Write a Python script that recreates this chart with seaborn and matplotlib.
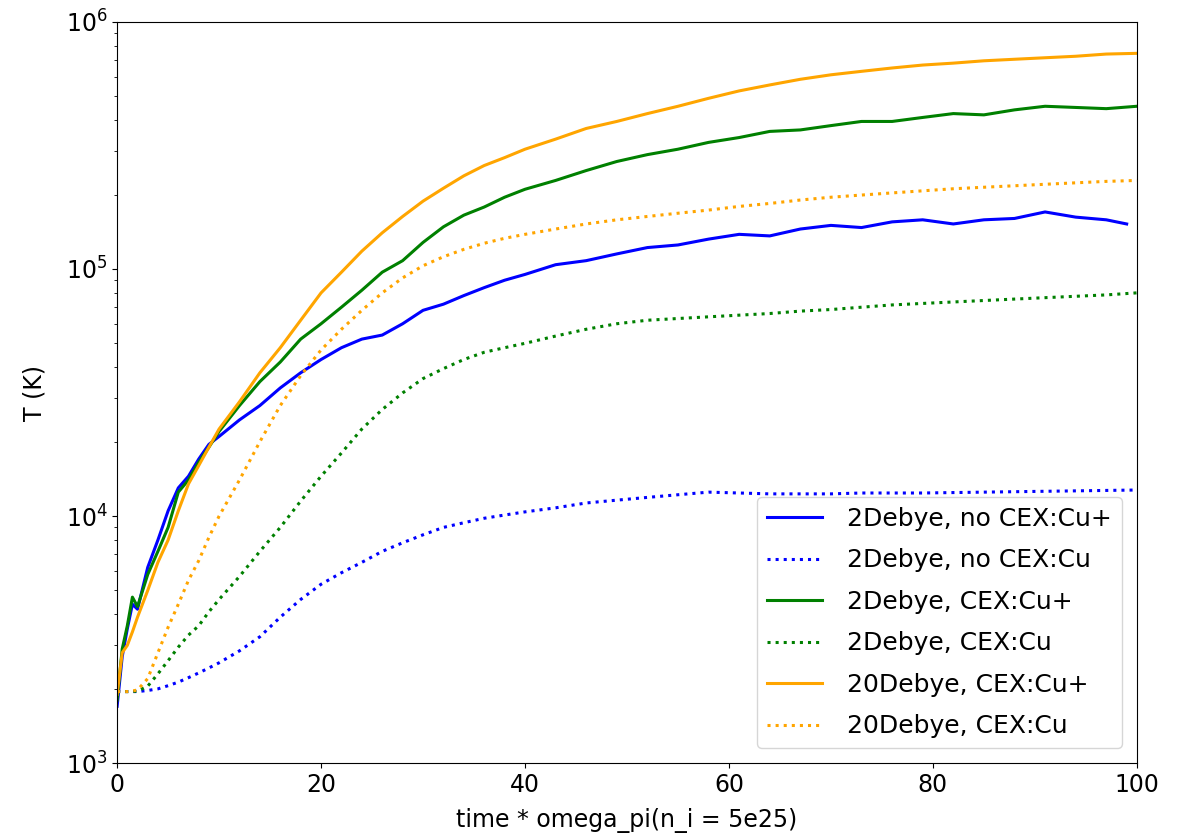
import numpy as np
import pandas as pd
import seaborn as sns
import matplotlib
matplotlib.use("Agg")
import matplotlib.pyplot as plt

# time grid (time * omega_pi)
time = [0, 0.5, 1, 1.5, 2, 3, 4, 5, 6, 7, 8, 9, 10, 12, 14, 16, 18, 20, 22, 24,
        26, 28, 30, 32, 34, 36, 38, 40, 43, 46, 49, 52, 55, 58, 61, 64, 67, 70,
        73, 76, 79, 82, 85, 88, 91, 94, 97, 100]
time_blue = time[:-1] + [99]  # blue solid run stops a bit earlier

# 2Debye, no CEX : Cu+ (solid blue)
T_2d_nocex_ion = [1700, 2700, 3500, 4400, 4200, 6200, 8000, 10500, 13000, 14500,
                  17000, 19500, 21000, 24500, 28000, 33000, 38000, 43000, 48000,
                  52000, 54000, 60000, 68000, 72000, 78000, 84000, 90000, 95000,
                  104000, 108000, 115000, 122000, 125000, 132000, 138000, 136000,
                  145000, 150000, 147000, 155000, 158000, 152000, 158000, 160000,
                  170000, 162000, 158000, 152000]
# 2Debye, no CEX : Cu (dotted blue)
T_2d_nocex_neu = [1950, 1950, 1950, 1950, 1950, 1970, 2000, 2060, 2130, 2220, 2320,
                  2430, 2550, 2850, 3250, 3900, 4600, 5300, 5900, 6500, 7200, 7800,
                  8400, 9000, 9400, 9800, 10100, 10400, 10800, 11300, 11600, 11900,
                  12200, 12500, 12400, 12300, 12300, 12300, 12400, 12400, 12400,
                  12450, 12500, 12550, 12600, 12650, 12700, 12750]
# 2Debye, CEX : Cu+ (solid green)
T_2d_cex_ion = [1800, 2900, 3600, 4700, 4300, 5800, 7200, 9000, 12500, 14000,
                16500, 19000, 22000, 28000, 35000, 42000, 52000, 60000, 70000,
                82000, 97000, 108000, 128000, 148000, 165000, 178000, 195000,
                210000, 228000, 250000, 272000, 290000, 305000, 325000, 340000,
                360000, 365000, 380000, 395000, 395000, 410000, 425000, 420000,
                440000, 455000, 450000, 445000, 455000]
# 2Debye, CEX : Cu (dotted green)
T_2d_cex_neu = [1950, 1950, 1950, 1950, 1960, 2050, 2300, 2600, 2950, 3300, 3600,
                4100, 4600, 5700, 7200, 9000, 11500, 14500, 18000, 22500, 27000,
                31500, 36000, 39500, 43000, 46000, 48000, 50000, 53500, 57000,
                60000, 62000, 63000, 64000, 65000, 66000, 67500, 68500, 70000,
                71500, 72500, 73500, 74500, 75500, 76500, 77500, 78500, 80000]
# 20Debye, CEX : Cu+ (solid orange)
T_20d_cex_ion = [1900, 2800, 3000, 3400, 3900, 5000, 6500, 8000, 10500, 13500,
                 16000, 19000, 22500, 29000, 38000, 48000, 62000, 80000, 97000,
                 118000, 140000, 163000, 188000, 212000, 238000, 262000, 282000,
                 305000, 335000, 370000, 395000, 425000, 455000, 490000, 525000,
                 555000, 585000, 610000, 630000, 650000, 668000, 680000, 695000,
                 705000, 715000, 725000, 740000, 745000]
# 20Debye, CEX : Cu (dotted orange)
T_20d_cex_neu = [1950, 1950, 1950, 1960, 1980, 2200, 2800, 3550, 4400, 5500, 6600,
                 8200, 10000, 14000, 20000, 28000, 37000, 47000, 57000, 68000,
                 80000, 92000, 103000, 112000, 120000, 127000, 133000, 138000,
                 145000, 152000, 158000, 163000, 168000, 173000, 179000, 184000,
                 190000, 195000, 199000, 203000, 207000, 211000, 214000, 217000,
                 220000, 223000, 226000, 228000]

series = [
    ("2Debye, no CEX:Cu+", time_blue, T_2d_nocex_ion, "blue", "-"),
    ("2Debye, no CEX:Cu", time, T_2d_nocex_neu, "blue", ":"),
    ("2Debye, CEX:Cu+", time, T_2d_cex_ion, "green", "-"),
    ("2Debye, CEX:Cu", time, T_2d_cex_neu, "green", ":"),
    ("20Debye, CEX:Cu+", time, T_20d_cex_ion, "orange", "-"),
    ("20Debye, CEX:Cu", time, T_20d_cex_neu, "orange", ":"),
]

fig, ax = plt.subplots(figsize=(11.83, 8.36), dpi=100)
fig.subplots_adjust(left=0.099, right=0.961, top=0.974, bottom=0.087)

for label, t, T, color, ls in series:
    df = pd.DataFrame({"t": t, "T": T})
    sns.lineplot(data=df, x="t", y="T", ax=ax, color=color, linestyle=ls,
                 linewidth=2.2, label=label)

ax.set_yscale("log")
ax.set_xlim(0, 100)
ax.set_ylim(1e3, 1e6)
ax.set_xlabel("time * omega_pi(n_i = 5e25)", fontsize=17, labelpad=8)
ax.set_ylabel("T (K)", fontsize=17, labelpad=14)
ax.tick_params(labelsize=17)
ax.legend(loc="lower right", fontsize=18, labelspacing=0.7, borderaxespad=0.6,
          handlelength=2.2, handletextpad=1.0)

fig.savefig("out.png", dpi=100)
